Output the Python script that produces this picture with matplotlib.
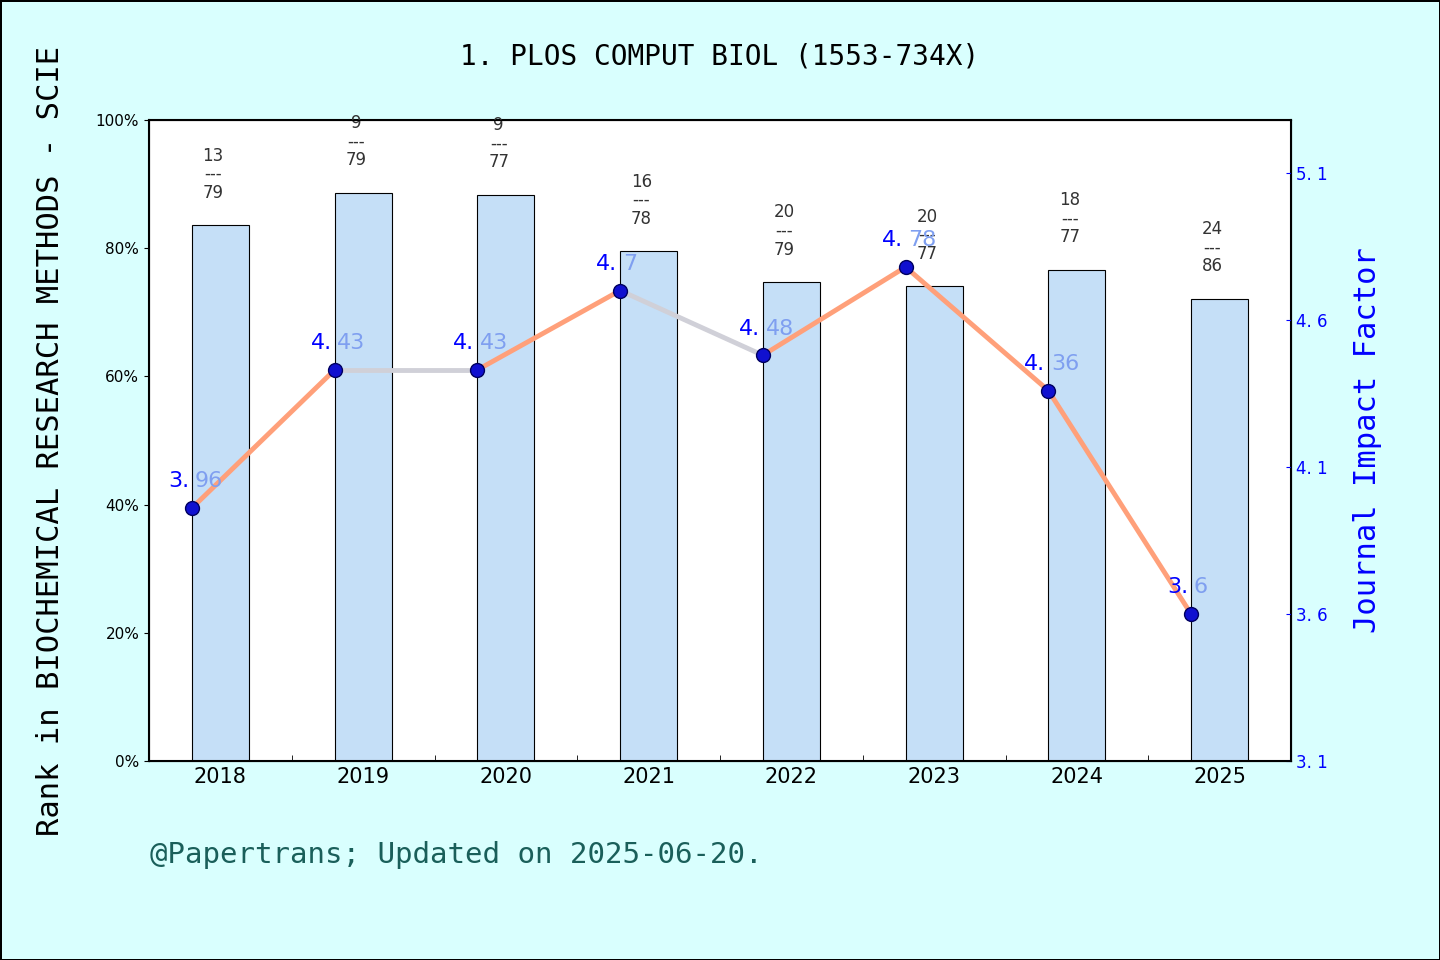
import matplotlib
matplotlib.use("Agg")
import matplotlib.pyplot as plt
import numpy as np

years = ["2018", "2019", "2020", "2021", "2022", "2023", "2024", "2025"]
ranks = [13, 9, 9, 16, 20, 20, 18, 24]
totals = [79, 79, 77, 78, 79, 77, 77, 86]
impact = [3.96, 4.43, 4.43, 4.7, 4.48, 4.78, 4.36, 3.6]
# segments drawn grey instead of orange (index of starting year)
grey_segments = [1, 3]

BG = "#d9fffe"
MONO = "DejaVu Sans Mono"

fig = plt.figure(figsize=(14.4, 9.6), dpi=100, facecolor=BG,
                 edgecolor="black", linewidth=1)
ax = fig.add_axes([149 / 1440, 1 - 761 / 960, 1142 / 1440, 641 / 960])
ax.set_facecolor("white")

x = np.arange(len(years))
pct = [100 * (1 - r / t) for r, t in zip(ranks, totals)]
ax.bar(x, pct, width=0.4, color="#c5dff7", edgecolor="black", linewidth=0.8, zorder=2)
for xi, p, r, t in zip(x, pct, ranks, totals):
    ax.text(xi - 0.05, p + 8, f"{r}\n---\n{t}", ha="center", va="center",
            fontsize=12, color="#333333", linespacing=1.05, zorder=3)

ax.set_xlim(-0.5, len(years) - 0.5)
ax.set_ylim(0, 100)
ax.set_xticks(x)
ax.set_xticklabels(years, fontsize=15)
ax.set_xticks(np.arange(-0.5, len(years), 1), minor=True)
ax.set_yticks(range(0, 101, 20))
ax.set_yticklabels([f"{v}%" for v in range(0, 101, 20)], fontsize=11)
ax.tick_params(axis="x", length=0, pad=4)
ax.tick_params(axis="x", which="minor", length=4, direction="in")
for sp in ax.spines.values():
    sp.set_linewidth(1.5)
ax.set_ylabel("Rank in BIOCHEMICAL RESEARCH METHODS - SCIE", fontsize=22,
              family=MONO, labelpad=22)

ax2 = ax.twinx()
ax2.set_ylim(3.1, 5.28)
ax2.set_yticks([3.1, 3.6, 4.1, 4.6, 5.1])
ax2.set_yticklabels(["3. 1", "3. 6", "4. 1", "4. 6", "5. 1"], fontsize=12, color="blue")
ax2.tick_params(axis="y", colors="blue", direction="in")
ax2.set_ylabel("Journal Impact Factor", fontsize=22, color="blue", family=MONO, labelpad=18)

xl = x - 0.2
for i in range(len(years) - 1):
    col = "#d0d0d8" if i in grey_segments else "#ffa07a"
    ax2.plot(xl[i:i + 2], impact[i:i + 2], color=col, linewidth=3.5, zorder=3)
ax2.plot(xl, impact, "o", color="#1010d0", markeredgecolor="#000060",
         markersize=10, zorder=4)
for xi, v in zip(xl, impact):
    s = f"{v:g}"
    head, tail = s.split(".")
    ax2.annotate(f"{head}.", (xi, v), xytext=(-2, 12), textcoords="offset points",
                 ha="right", va="bottom", fontsize=16, color="blue", zorder=5)
    ax2.annotate(tail, (xi, v), xytext=(2, 12), textcoords="offset points",
                 ha="left", va="bottom", fontsize=16, color="#7f9ff0", zorder=5)

fig.text(0.5, 1 - 57 / 960, "1. PLOS COMPUT BIOL (1553-734X)", ha="center", va="center",
         fontsize=20, family=MONO)
fig.text(150 / 1440, 1 - 855 / 960, "@Papertrans; Updated on 2025-06-20.", ha="left",
         va="center", fontsize=21, family=MONO, color="#1a5f5a")

fig.savefig("out.png", dpi=100, facecolor=BG, edgecolor="black")
